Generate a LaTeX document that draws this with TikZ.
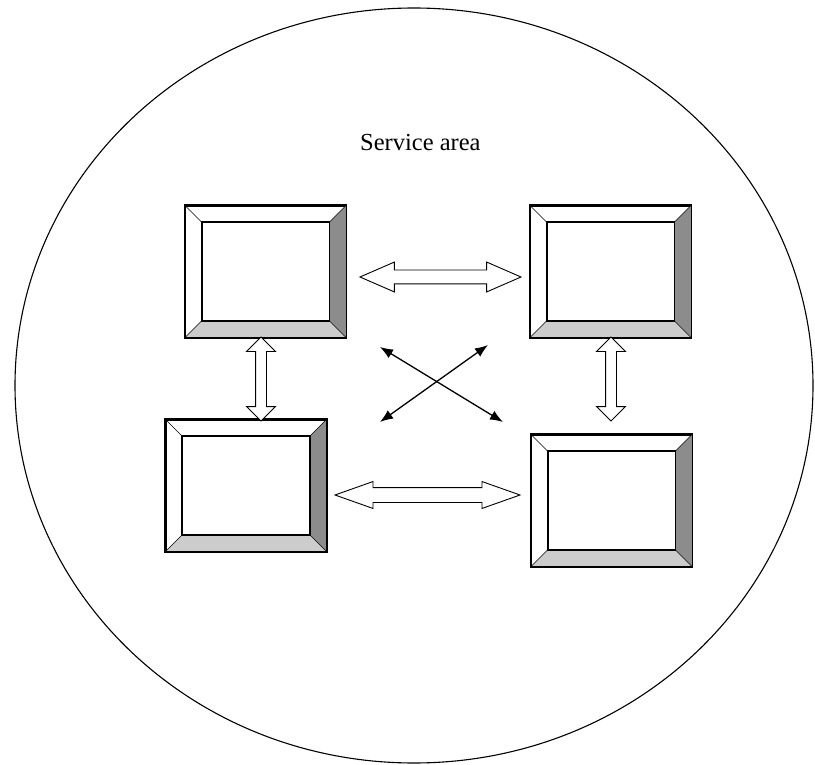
\documentclass[tikz,border=0pt]{standalone}
\usepackage{fontspec}
\setmainfont{Liberation Serif}
\usepackage{tikz}
\usetikzlibrary{calc,arrows.meta,shapes.arrows}

\definecolor{sidedark}{gray}{0.55}
\definecolor{sidelight}{gray}{0.8}

\tikzset{
	frame/.style={draw, line width=1.7, minimum width=160, minimum height=131, inner sep=0},
	hollow/.style={shape=double arrow, draw, line width=0.9, inner xsep=0, fill=white},
	diag/.style={line width=1.3, {Latex[length=13,width=10]}-{Latex[length=13,width=10]}}
}

% bevelled frame drawn on top of a frame node
\newcommand{\bevel}[1]{
	\fill[sidedark] (#1.north east) -- (#1.south east) -- ($(#1.south east)+(-17,-17)$) -- ($(#1.north east)+(-17,17)$) -- cycle;
	\fill[sidelight] (#1.south west) -- (#1.south east) -- ($(#1.south east)+(-17,-17)$) -- ($(#1.south west)+(17,-17)$) -- cycle;
	\draw[line width=0.6] (#1.north west) -- ++(17,17) (#1.north east) -- ++(-17,17)
		(#1.south west) -- ++(17,-17) (#1.south east) -- ++(-17,-17);
	\draw[line width=1.7] ($(#1.north west)+(17,17)$) rectangle ($(#1.south east)+(-17,-17)$);
	\draw[line width=1.7] (#1.north west) rectangle (#1.south east);
}

\begin{document}
\begin{tikzpicture}[x=1pt,y=-1pt]
	\useasboundingbox (0,0) rectangle (815,765);
	
	\draw[line width=1.1] (414,385.5) ellipse [x radius=399, y radius=377.5];
	\node[anchor=base west, inner sep=0, font=\fontsize{24.5}{28}\selectfont] (title) at (360,151) {Service area};
	
	\node[frame] (b1) at (265.5,271.5) {};
	\node[frame] (b2) at (610.5,271.5) {};
	\node[frame] (b3) at (246,485.5) {};
	\node[frame] (b4) at (611.5,500.5) {};
	\bevel{b1}
	\bevel{b2}
	\bevel{b3}
	\bevel{b4}
	
	% hollow links between neighbours
	\node[hollow, minimum height=161, inner ysep=6.5, double arrow head extend=8, double arrow tip angle=47] (l12) at (440.5,277) {};
	\node[hollow, minimum height=185, inner ysep=7, double arrow head extend=6, double arrow tip angle=39] (l34) at (427.5,495) {};
	\node[hollow, rotate=90, minimum height=84, inner ysep=5, double arrow head extend=9, double arrow tip angle=90] (l13) at (261,379) {};
	\node[hollow, rotate=90, minimum height=84, inner ysep=5, double arrow head extend=9, double arrow tip angle=90] (l24) at (611,379) {};
	
	% crossing links
	\coordinate (c1) at (380,347);
	\coordinate (c4) at (503,422);
	\coordinate (c2) at (488,345);
	\coordinate (c3) at (380,422);
	\draw[diag] (c1) -- (c4);
	\draw[diag] (c2) -- (c3);
\end{tikzpicture}
\end{document}
